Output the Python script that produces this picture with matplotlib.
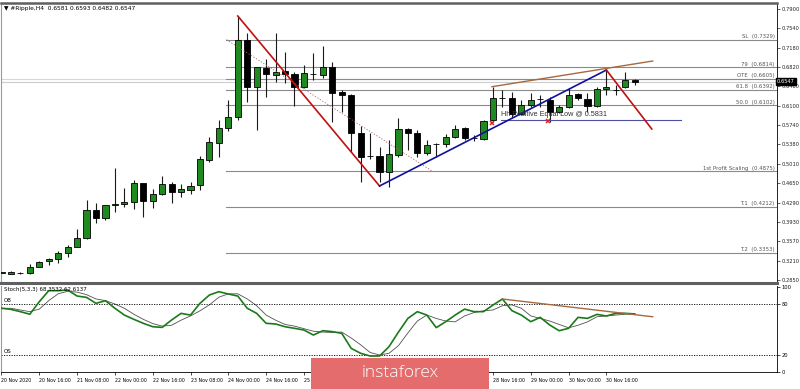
import numpy as np
import matplotlib
matplotlib.use("Agg")
import matplotlib.pyplot as plt
from matplotlib.patches import Rectangle
import matplotlib.transforms as mtransforms

# --- data (XRP H4) ---
opens = [0.2980, 0.2962, 0.2978, 0.2975, 0.3098, 0.3199, 0.3236, 0.3359, 0.3471, 0.3633,
         0.4154, 0.4000, 0.4253, 0.4266, 0.4298, 0.4663, 0.4328, 0.4453, 0.4639, 0.4484,
         0.4527, 0.4615, 0.5086, 0.5409, 0.5688, 0.5882, 0.7322, 0.6452, 0.6795, 0.6670,
         0.6745, 0.6689, 0.6441, 0.6689, 0.6670, 0.6814, 0.6353, 0.6297, 0.5595, 0.5161,
         0.5161, 0.4868, 0.5179, 0.5664, 0.5584, 0.5211, 0.5379, 0.5384, 0.5509, 0.5677,
         0.5496, 0.5472, 0.5832, 0.6236, 0.6236, 0.5943, 0.6111, 0.6217, 0.6204, 0.5986,
         0.6068, 0.6310, 0.6217, 0.6092, 0.6404, 0.6391, 0.6441, 0.6581]
highs = [0.3005, 0.3010, 0.2990, 0.3148, 0.3213, 0.3254, 0.3396, 0.3502, 0.3795, 0.4341,
         0.4279, 0.4247, 0.4931, 0.4559, 0.4714, 0.4663, 0.4540, 0.4794, 0.4682, 0.4639,
         0.4682, 0.5161, 0.5520, 0.5832, 0.6204, 0.7770, 0.7447, 0.6814, 0.6963, 0.7447,
         0.7104, 0.6726, 0.6856, 0.7074, 0.7210, 0.6918, 0.6391, 0.6316, 0.5720, 0.5595,
         0.5334, 0.5459, 0.5863, 0.5688, 0.5645, 0.5459, 0.5409, 0.5571, 0.5739, 0.5707,
         0.5552, 0.5832, 0.6452, 0.6391, 0.6360, 0.6204, 0.6340, 0.6297, 0.6255, 0.6111,
         0.6422, 0.6340, 0.6340, 0.6452, 0.6763, 0.6484, 0.6732, 0.6593]
lows = [0.2965, 0.2955, 0.2970, 0.2970, 0.3083, 0.3129, 0.3172, 0.3284, 0.3456, 0.3614,
        0.3918, 0.3968, 0.4123, 0.4216, 0.4167, 0.4030, 0.4186, 0.4434, 0.4279, 0.4402,
        0.4453, 0.4527, 0.5054, 0.5148, 0.5632, 0.5832, 0.6172, 0.5645, 0.6266, 0.6545,
        0.6527, 0.6092, 0.6422, 0.6577, 0.6609, 0.5800, 0.5986, 0.5241, 0.4682, 0.5099,
        0.4682, 0.4589, 0.5148, 0.5273, 0.5148, 0.5179, 0.5148, 0.5334, 0.5490, 0.5459,
        0.5440, 0.5459, 0.5795, 0.6079, 0.5893, 0.5924, 0.6079, 0.6079, 0.5800, 0.5956,
        0.6049, 0.6204, 0.5986, 0.6079, 0.6297, 0.6297, 0.6422, 0.6482]
closes = [0.2990, 0.3005, 0.2982, 0.3098, 0.3191, 0.3236, 0.3359, 0.3471, 0.3627, 0.4154,
          0.4000, 0.4247, 0.4266, 0.4309, 0.4663, 0.4328, 0.4453, 0.4633, 0.4496, 0.4540,
          0.4607, 0.5099, 0.5416, 0.5688, 0.5882, 0.7322, 0.6452, 0.6814, 0.6689, 0.6732,
          0.6689, 0.6441, 0.6702, 0.6695, 0.6814, 0.6340, 0.6303, 0.5595, 0.5148, 0.5152,
          0.4868, 0.5193, 0.5664, 0.5584, 0.5211, 0.5366, 0.5384, 0.5509, 0.5658, 0.5502,
          0.5490, 0.5818, 0.6236, 0.6242, 0.5943, 0.6111, 0.6204, 0.6223, 0.5986, 0.6068,
          0.6297, 0.6236, 0.6092, 0.6404, 0.6441, 0.6397, 0.6577, 0.6547]

stoch_main = [75, 73.7, 71, 68, 82.7, 95.7, 95.7, 96.5, 89.4, 87.8,
              80.8, 83.9, 75, 67, 62, 57.3, 53.3, 52.5, 61.2, 69,
              67, 80.8, 90.6, 94.5, 91.8, 89.4, 75, 69, 57.3, 56.5,
              53.3, 51.4, 49.4, 43.5, 48.6, 47.5, 45.5, 27.8, 22, 18.8,
              18.8, 29.8, 47, 63.1, 71, 67, 52.2, 59.2, 67, 74,
              71, 71, 78.8, 85.9, 72.2, 67, 59.2, 64.3, 55.3, 48.6,
              51.4, 64.3, 63.1, 67.8, 65.9, 69, 69, 68.35]
stoch_signal = [75, 75, 73, 71, 74, 84, 92, 95, 94, 91,
                86, 84, 80, 75, 68, 62, 57, 54, 55, 61,
                66, 72, 79, 88, 92, 92, 86, 78, 67, 61,
                56, 54, 51, 48, 47, 46.5, 47, 40, 32, 23,
                20, 22, 31, 46, 60, 67, 63, 60, 59, 66,
                70, 72, 73, 78, 79, 75, 66, 63, 60, 56,
                52, 55, 59, 65, 66, 67, 68, 68.5]

price_ticks = [0.7900, 0.7540, 0.7180, 0.6820, 0.6460, 0.6100, 0.5740, 0.5380,
               0.5010, 0.4650, 0.4290, 0.3930, 0.3570, 0.3210, 0.2850]

level_names = ["SL", "79", "OTE", "61.8", "50.0", "1st Profit Scaling", "T.1", "T.2"]
level_prices = [0.7329, 0.6814, 0.6605, 0.6392, 0.6102, 0.4875, 0.4212, 0.3353]
level_start = 23.8

bid_price = 0.6547
ask_price = 0.6587

# time labels visible in the reference (the ones between are under the logo)
time_ticks = [0, 4, 8, 12, 16, 20, 24, 28, 32, 52, 56, 60, 64]
time_labels = ["20 Nov 2020", "20 Nov 16:00", "21 Nov 08:00", "22 Nov 00:00", "22 Nov 16:00",
               "23 Nov 08:00", "24 Nov 00:00", "24 Nov 16:00", "25 Nov 08:00",
               "28 Nov 16:00", "29 Nov 00:00", "30 Nov 00:00", "30 Nov 16:00"]

# drawn objects (bar index, price)
red_leg1 = ([25, 40], [0.7770, 0.4602])
blue_leg = ([40, 64], [0.4602, 0.6763])
red_leg2 = ([64, 68.8], [0.6763, 0.5664])
brown_top = ([51.9, 68.9], [0.6452, 0.6931])
dotted_fib = ([23.8, 45.6], [0.7329, 0.4875])
equal_low = ([52.8, 71.9], [0.5831, 0.5831])
equal_low_marks = ([51.9, 57.8], [0.5781, 0.5813])
stoch_trend = ([53, 68.9], [85.9, 65])

fig = plt.figure(figsize=(8, 3.89), dpi=100)
fig.patch.set_facecolor("white")

ax = fig.add_axes([1 / 800, 1 - 283 / 389, 776 / 800, 280 / 389])
ax2 = fig.add_axes([1 / 800, 1 - 372 / 389, 776 / 800, 86 / 389])

xmin, xmax = -0.05, 82.05
ax.set_xlim(xmin, xmax)
ax.set_ylim(0.2794, 0.8012)
ax2.set_xlim(xmin, xmax)
ax2.set_ylim(0, 101.2)

# --- level lines ---
for name, p in zip(level_names, level_prices):
    ax.plot([level_start, xmax], [p, p], color="#8a8a8a", lw=0.8, zorder=1)
    ax.text(0.997, p + 0.0012, f"{name}  ({p:.4f})",
            transform=mtransforms.blended_transform_factory(ax.transAxes, ax.transData),
            ha="right", va="bottom", fontsize=3.9, color="#555555")

ax.axhline(ask_price, color="#d8d8d8", lw=0.8, zorder=0.5)
ax.axhline(bid_price, color="#cccccc", lw=0.8, zorder=0.5)

# --- candles ---
x = np.arange(len(opens))
o = np.array(opens); h = np.array(highs); l = np.array(lows); c = np.array(closes)
up = c >= o
ax.vlines(x, l, h, color="#1a1a1a", lw=0.8, zorder=2)
body_lo = np.minimum(o, c)
body_h = np.maximum(np.abs(c - o), 0.0006)
ax.bar(x[up], body_h[up], bottom=body_lo[up], width=0.65, color="#1f8a1f",
       edgecolor="black", linewidth=0.6, zorder=3)
ax.bar(x[~up], body_h[~up], bottom=body_lo[~up], width=0.65, color="black",
       edgecolor="black", linewidth=0.6, zorder=3)

# --- drawings ---
ax.plot(*dotted_fib, color="#b06060", lw=0.6, ls=(0, (1.5, 2)), zorder=4)
ax.plot(*red_leg1, color="#c01010", lw=1.2, zorder=5)
ax.plot(*blue_leg, color="#1010a0", lw=1.2, zorder=5)
ax.plot(*red_leg2, color="#c01010", lw=1.2, zorder=5)
ax.plot(*brown_top, color="#a8683c", lw=1.0, zorder=5)
ax.plot(*equal_low, color="#5050a0", lw=0.8, zorder=4)
ax.plot(*equal_low_marks, ls="none", marker="x", color="#e02020", ms=3.5, mew=1.1, zorder=6)
ax.text(52.8, 0.5943, "Hh Positive Equal Low @ 0.5831", fontsize=5.2, color="#333333",
        family="Liberation Sans", va="center", ha="left", zorder=6)

# header
ax.text(0.004, 0.988, "\u25bc #Ripple,H4  0.6581 0.6593 0.6482 0.6547", transform=ax.transAxes,
        fontsize=4.2, va="top", ha="left", color="black")

# price axis on right
ax.yaxis.tick_right()
ax.set_yticks(price_ticks)
ax.set_yticklabels([f"{t:.4f}" for t in price_ticks])
ax.tick_params(axis="y", labelsize=3.7, length=2, width=0.5, pad=1, colors="#222222")
ax.set_xticks([])
ax.text(1.0, bid_price, f"{bid_price:.4f}",
        transform=mtransforms.blended_transform_factory(ax.transAxes, ax.transData),
        ha="left", va="center", fontsize=3.7, color="white",
        bbox=dict(boxstyle="square,pad=0.25", fc="black", ec="black"), zorder=10, clip_on=False)

ax.spines["left"].set_color("#9a9a9a")
ax.spines["right"].set_linewidth(0.6)
ax.spines["top"].set_color("#606060")
ax.spines["top"].set_linewidth(1.8)
ax.spines["bottom"].set_color("#606060")
ax.spines["bottom"].set_linewidth(2.2)

# --- stochastic panel ---
ax2.plot(x, stoch_signal, color="#505050", lw=0.6, zorder=2)
ax2.plot(x, stoch_main, color="#1a7a1a", lw=1.2, zorder=3)
ax2.plot(*stoch_trend, color="#a8683c", lw=1.0, zorder=4)
ax2.axhline(80, color="black", lw=0.6, ls=(0, (1.5, 1.5)))
ax2.axhline(20, color="black", lw=0.6, ls=(0, (1.5, 1.5)))
ax2.text(0.2, 81.5, "OB", fontsize=4, va="bottom")
ax2.text(0.2, 21.5, "OS", fontsize=4, va="bottom")
ax2.text(0.004, 0.985, "Stoch(5,3,3) 68.3532 62.6137", transform=ax2.transAxes,
         fontsize=4, va="top", ha="left")

ax2.yaxis.tick_right()
ax2.set_yticks([100, 80, 20, 0])
ax2.tick_params(axis="y", labelsize=3.7, length=2, width=0.5, pad=1)
ax2.set_xticks(time_ticks)
ax2.set_xticklabels(time_labels, ha="left")
ax2.tick_params(axis="x", labelsize=3.4, length=2.5, width=0.5, pad=1.5)
ax2.spines["top"].set_visible(False)
ax2.spines["left"].set_color("#9a9a9a")
ax2.spines["right"].set_linewidth(0.6)
ax2.spines["bottom"].set_linewidth(0.6)

# --- watermark logo ---
fig.patches.append(Rectangle((311 / 800, 0), 178 / 800, 31 / 389, transform=fig.transFigure,
                             facecolor="#e46c6c", edgecolor="none", zorder=20))
fig.text(400 / 800, 16 / 389, "instaforex", ha="center", va="center", fontsize=12.5,
         color="white", family="Open Sans", fontweight="light", zorder=21)

fig.savefig("out.png", dpi=100, facecolor="white")
